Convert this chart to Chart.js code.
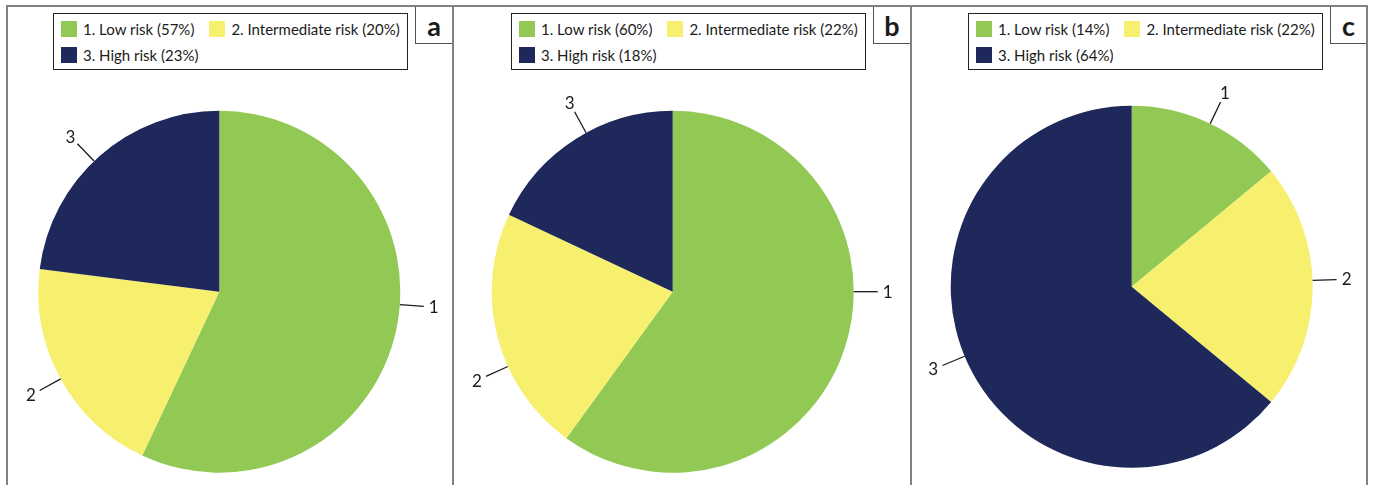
<!DOCTYPE html>
<html>
<head>
<meta charset="utf-8">
<title>Risk group distribution</title>
<script src="https://cdn.jsdelivr.net/npm/chart.js@4.4.0/dist/chart.umd.min.js"></script>
<style>
  html, body { margin: 0; padding: 0; background: #fff; }
  #stage {
    position: relative; width: 1373px; height: 485px; overflow: hidden;
    background: #fff; font-family: Lato, "Open Sans", sans-serif; color: #1b1b1b;
  }
  .frame {
    position: absolute; left: 6px; top: 5px; width: 1358px; height: 540px;
    border: 2px solid #808080;
  }
  .divider { position: absolute; top: 5px; width: 2px; height: 500px; background: #808080; }
  .panel { position: absolute; top: 7px; height: 478px; }
  .panel canvas { position: absolute; left: 0; top: 0; }
  .tag {
    position: absolute; top: 0; height: 36px;
    border-left: 1px solid #505050; border-bottom: 1px solid #505050;
    font: bold 27px Lato, sans-serif; color: #1b1b1b;
    display: flex; align-items: center; justify-content: center; background: #fff;
  }
  .legend {
    position: absolute; top: 6px; width: 346px; height: 48px;
    border: 1px solid #222; background: #fff;
    padding: 7px 0 0 7px;
  }
  .legend .row { display: flex; height: 16px; margin-bottom: 10px; white-space: nowrap; }
  .legend .item { display: flex; align-items: center; margin-right: 15px; }
  .legend .swatch { width: 16px; height: 16px; margin-right: 6px; flex: none; }
  .legend .text { font-size: 15px; line-height: 16px; }
</style>
</head>
<body>
<div id="stage">
  <div class="frame"></div>
  <div class="divider" style="left:452px"></div>
  <div class="divider" style="left:910px"></div>
</div>
<script>
// Risk categories and the share of patients in each group, per panel
const categories = ['1. Low risk', '2. Intermediate risk', '3. High risk'];
const sliceLabels = ['1', '2', '3'];
const panelLetters = ['a', 'b', 'c'];
const valuesA = [57, 20, 23];
const valuesB = [60, 22, 18];
const valuesC = [14, 22, 64];
const sliceColors = ['#92C955', '#F7EF6E', '#1E285B'];

// Small angular nudges (degrees) for the leader lines, so they avoid crowding
const leaderShiftA = [-8.5, 0, -2.4];
const leaderShiftB = [-18, -10, 3.8];
const leaderShiftC = [0.5, -2, 2.6];

// Panel geometry in page pixels
const PIE_RADIUS = 181;
const PANEL_TOP = 7;
const PANEL_HEIGHT = 478;
const panels = [
  { letter: panelLetters[0], values: valuesA, shift: leaderShiftA, left: 8,   right: 452,  cx: 219.3,  cy: 291.7, legendRight: 408,  tagLeft: 415 },
  { letter: panelLetters[1], values: valuesB, shift: leaderShiftB, left: 454, right: 910,  cx: 672.7,  cy: 291.7, legendRight: 866,  tagLeft: 873 },
  { letter: panelLetters[2], values: valuesC, shift: leaderShiftC, left: 912, right: 1366, cx: 1131.7, cy: 286.7, legendRight: 1323, tagLeft: 1330 }
];

// Numbered labels outside each slice, joined to the rim by a short leader line
const leaderPlugin = {
  id: 'leaders',
  afterDatasetsDraw(chart, args, opts) {
    const ctx = chart.ctx;
    const meta = chart.getDatasetMeta(0);
    meta.data.forEach((arc, i) => {
      const p = arc.getProps(['x', 'y', 'startAngle', 'endAngle', 'outerRadius'], true);
      const a = (p.startAngle + p.endAngle) / 2 + (opts.shift[i] || 0) * Math.PI / 180;
      const ux = Math.cos(a), uy = Math.sin(a);
      const r0 = p.outerRadius, r1 = r0 + opts.length, r2 = r1 + opts.gap;
      ctx.save();
      ctx.strokeStyle = '#1b1b1b';
      ctx.lineWidth = 1.3;
      ctx.beginPath();
      ctx.moveTo(p.x + ux * r0, p.y + uy * r0);
      ctx.lineTo(p.x + ux * r1, p.y + uy * r1);
      ctx.stroke();
      ctx.fillStyle = '#1b1b1b';
      ctx.font = '17px Lato, sans-serif';
      ctx.textAlign = 'center';
      ctx.textBaseline = 'middle';
      ctx.fillText(opts.labels[i], p.x + ux * r2, p.y + uy * r2 + 0.5);
      ctx.restore();
    });
  }
};

// Boxed legend built from the chart's own legend items, two entries per row
function buildLegend(chart, host) {
  const items = chart.options.plugins.legend.labels.generateLabels(chart);
  const values = chart.data.datasets[0].data;
  for (let r = 0; r < items.length; r += 2) {
    const row = document.createElement('div');
    row.className = 'row';
    items.slice(r, r + 2).forEach(it => {
      const item = document.createElement('div');
      item.className = 'item';
      const sw = document.createElement('span');
      sw.className = 'swatch';
      sw.style.background = it.fillStyle;
      const tx = document.createElement('span');
      tx.className = 'text';
      tx.textContent = `${it.text} (${values[it.index]}%)`;
      item.appendChild(sw);
      item.appendChild(tx);
      row.appendChild(item);
    });
    host.appendChild(row);
  }
}

const stage = document.getElementById('stage');
panels.forEach(pn => {
  const w = pn.right - pn.left;
  const panel = document.createElement('div');
  panel.className = 'panel';
  panel.style.left = pn.left + 'px';
  panel.style.width = w + 'px';
  stage.appendChild(panel);

  const canvas = document.createElement('canvas');
  canvas.width = w;
  canvas.height = PANEL_HEIGHT;
  panel.appendChild(canvas);

  const lx = pn.cx - pn.left, ly = pn.cy - PANEL_TOP;
  const chart = new Chart(canvas, {
    type: 'pie',
    data: {
      labels: categories,
      datasets: [{ data: pn.values, backgroundColor: sliceColors, borderWidth: 0 }]
    },
    options: {
      responsive: false,
      animation: false,
      layout: {
        padding: {
          left: lx - PIE_RADIUS,
          right: w - (lx + PIE_RADIUS),
          top: ly - PIE_RADIUS,
          bottom: PANEL_HEIGHT - (ly + PIE_RADIUS)
        }
      },
      plugins: {
        legend: { display: false },
        tooltip: { enabled: false },
        leaders: { labels: sliceLabels, shift: pn.shift, length: 24, gap: 10 }
      }
    },
    plugins: [leaderPlugin]
  });

  const legend = document.createElement('div');
  legend.className = 'legend';
  legend.style.left = (pn.legendRight - 355 - pn.left) + 'px';
  panel.appendChild(legend);
  buildLegend(chart, legend);

  const tag = document.createElement('div');
  tag.className = 'tag';
  tag.style.left = (pn.tagLeft - pn.left) + 'px';
  tag.style.width = (pn.right - pn.tagLeft - 1) + 'px';
  tag.textContent = pn.letter;
  panel.appendChild(tag);
});
</script>
</body>
</html>
